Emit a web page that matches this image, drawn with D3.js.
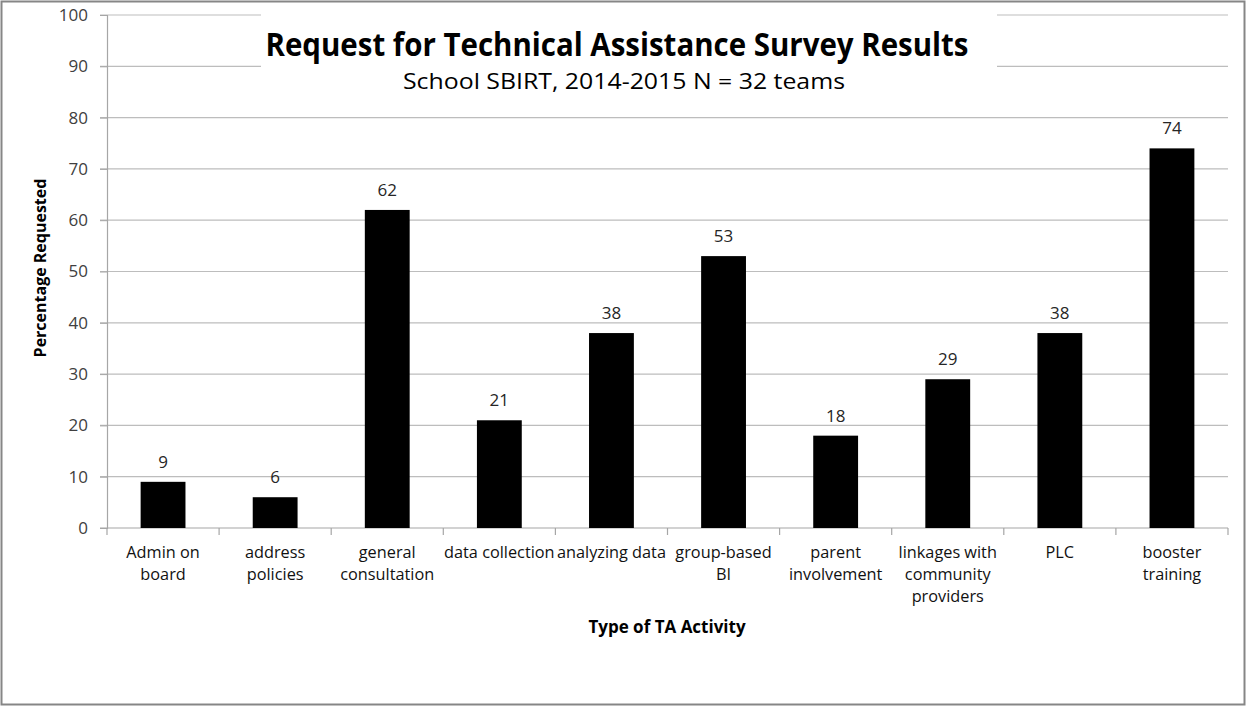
<!DOCTYPE html>
<html>
<head>
<meta charset="utf-8">
<script src="https://cdn.jsdelivr.net/npm/d3@7"></script>
<style>
  body { margin: 0; background: #fff; }
  svg { display: block; font-family: "Open Sans", "Liberation Sans", sans-serif; }
</style>
</head>
<body>
<div id="chart"></div>
<script>
    // chart data
    const categories = ["Admin on\nboard", "address\npolicies", "general\nconsultation", "data collection", "analyzing data",
        "group-based\nBI", "parent\ninvolvement", "linkages with\ncommunity\nproviders", "PLC", "booster\ntraining"]
    const values = [9, 6, 62, 21, 38, 53, 18, 29, 38, 74]
    const yTicks = [0, 10, 20, 30, 40, 50, 60, 70, 80, 90, 100]

    const w = 1247;
    const h = 706;
    const plotLeft = 107, plotRight = 1228, plotTop = 15, plotBottom = 528;

    const svg = d3.select("#chart")
        .append("svg")
        .attr("width", w)
        .attr("height", h)

    // outer frame
    svg.append("rect")
        .attr("x", 1.5).attr("y", 1.5)
        .attr("width", w - 4).attr("height", h - 3)
        .attr("fill", "#fff")
        .attr("stroke", "#868686")
        .attr("stroke-width", 2)

    var xScale = d3.scaleBand()
        .domain(categories)
        .range([plotLeft, plotRight])
        .paddingInner(0.6)
        .paddingOuter(0.3)

    var yScale = d3.scaleLinear()
        .domain([0, 100])
        .range([plotBottom, plotTop])

    // gridlines
    svg.append("g")
        .selectAll("line")
        .data(yTicks)
        .enter()
        .append("line")
        .attr("x1", plotLeft - 7)
        .attr("x2", plotRight)
        .attr("y1", d => yScale(d))
        .attr("y2", d => yScale(d))
        .attr("stroke", d => d === 0 ? "#a6a6a6" : "#bdbdbd")
        .attr("stroke-width", 1.2)

    // y axis
    const yAxis = svg.append("g")
        .attr("transform", `translate(${plotLeft},0)`)
        .call(d3.axisLeft(yScale).tickValues(yTicks).tickSize(7).tickPadding(12))
    yAxis.select(".domain").attr("stroke", "#a6a6a6").attr("stroke-width", 1.2)
    yAxis.selectAll(".tick line").attr("stroke", "#a6a6a6")
    yAxis.selectAll("text")
        .attr("font-size", 17)
        .attr("fill", "#404040")
        .attr("font-family", "Open Sans, sans-serif")

    // x axis ticks at category boundaries
    const step = xScale.step()
    const bounds = d3.range(categories.length + 1).map(i => plotLeft + i * step)
    svg.append("g")
        .selectAll("line")
        .data(bounds)
        .enter()
        .append("line")
        .attr("x1", d => d).attr("x2", d => d)
        .attr("y1", plotBottom).attr("y2", plotBottom + 7)
        .attr("stroke", "#a6a6a6")
        .attr("stroke-width", 1.2)

    // title box hides gridlines
    svg.append("rect")
        .attr("x", 261).attr("y", 6)
        .attr("width", 736).attr("height", 100)
        .attr("fill", "#fff")

    svg.append("text")
        .attr("x", 617).attr("y", 56)
        .attr("text-anchor", "middle")
        .attr("font-size", 33)
        .attr("font-weight", "bold")
        .attr("textLength", 703)
        .attr("lengthAdjust", "spacingAndGlyphs")
        .text("Request for Technical Assistance Survey Results")

    svg.append("text")
        .attr("x", 624).attr("y", 89)
        .attr("text-anchor", "middle")
        .attr("font-size", 21)
        .attr("textLength", 442)
        .attr("lengthAdjust", "spacingAndGlyphs")
        .text("School SBIRT, 2014-2015 N = 32 teams")

    // bars
    svg.append("g")
        .selectAll("rect")
        .data(values)
        .enter()
        .append("rect")
        .attr("x", (d, i) => xScale(categories[i]))
        .attr("y", d => yScale(d))
        .attr("width", xScale.bandwidth())
        .attr("height", d => plotBottom - yScale(d))
        .attr("fill", "#000")

    // value labels
    svg.append("g")
        .selectAll("text")
        .data(values)
        .enter()
        .append("text")
        .attr("x", (d, i) => xScale(categories[i]) + xScale.bandwidth() / 2)
        .attr("y", d => yScale(d) - 14)
        .attr("text-anchor", "middle")
        .attr("font-size", 17)
        .attr("fill", "#262626")
        .text(d => d)

    // category labels
    const catLabels = svg.append("g")
        .selectAll("text")
        .data(categories)
        .enter()
        .append("text")
        .attr("text-anchor", "middle")
        .attr("font-size", 16.3)
        .attr("fill", "#111")
    catLabels.each(function (d) {
        const cx = xScale(d) + xScale.bandwidth() / 2
        d.split("\n").forEach((line, j) => {
            d3.select(this).append("tspan")
                .attr("x", cx)
                .attr("y", 558 + j * 22)
                .text(line)
        })
    })

    // axis titles
    svg.append("text")
        .attr("x", 667).attr("y", 633)
        .attr("text-anchor", "middle")
        .attr("font-size", 17)
        .attr("font-weight", "bold")
        .text("Type of TA Activity")

    svg.append("text")
        .attr("transform", "translate(46,268) rotate(-90)")
        .attr("text-anchor", "middle")
        .attr("font-size", 16)
        .attr("font-weight", "bold")
        .text("Percentage Requested")
</script>
</body>
</html>
